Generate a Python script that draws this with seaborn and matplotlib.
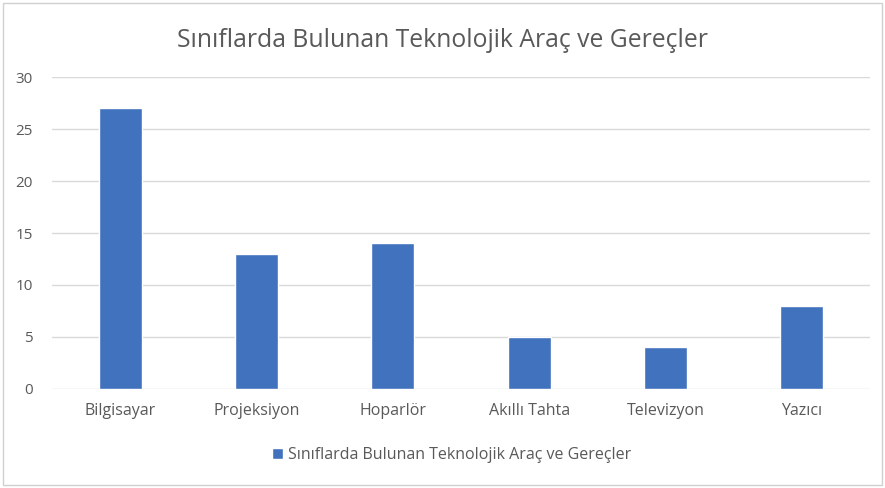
import pandas as pd
import seaborn as sns
import matplotlib.pyplot as plt
from matplotlib.patches import Rectangle

categories = ['Bilgisayar', 'Projeksiyon', 'Hoparlör', 'Akıllı Tahta', 'Televizyon', 'Yazıcı']
counts = [27, 13, 14, 5, 4, 8]
series_name = 'Sınıflarda Bulunan Teknolojik Araç ve Gereçler'

df = pd.DataFrame({'arac': categories, 'sayi': counts})

sns.set_theme(style='white')
plt.rcParams['font.family'] = ['Open Sans', 'DejaVu Sans']

fig = plt.figure(figsize=(8.85, 4.88), dpi=100)
ax = fig.add_axes([0.059, 0.203, 0.924, 0.639])

sns.barplot(data=df, x='arac', y='sayi', color='#4172BE', width=0.315,
            saturation=1, ax=ax, label=series_name, zorder=3)

ax.set_ylim(0, 30)
ax.set_yticks(range(0, 31, 5))
ax.set_xlim(-0.5, 5.5)
ax.grid(axis='y', color='#D9D9D9', linewidth=1, zorder=0)
for s in ax.spines.values():
    s.set_visible(False)
ax.set_xlabel('')
ax.set_ylabel('')
ax.tick_params(axis='x', length=0, labelsize=11.5, colors='#595959', pad=10)
ax.tick_params(axis='y', length=0, labelsize=11, colors='#595959', pad=14)

fig.suptitle(series_name, y=0.942, fontsize=17.8, color='#595959')

leg = ax.legend(loc='upper center', bbox_to_anchor=(0.488, -0.14), frameon=False,
                fontsize=11.5, handlelength=0.7, handleheight=0.7, handletextpad=0.3)
for t in leg.get_texts():
    t.set_color('#595959')

fig.patches.append(Rectangle((0.003, 0.006), 0.994, 0.988, transform=fig.transFigure,
                             fill=False, edgecolor='#D0D0D0', linewidth=1))

plt.savefig('out.png', dpi=100)
